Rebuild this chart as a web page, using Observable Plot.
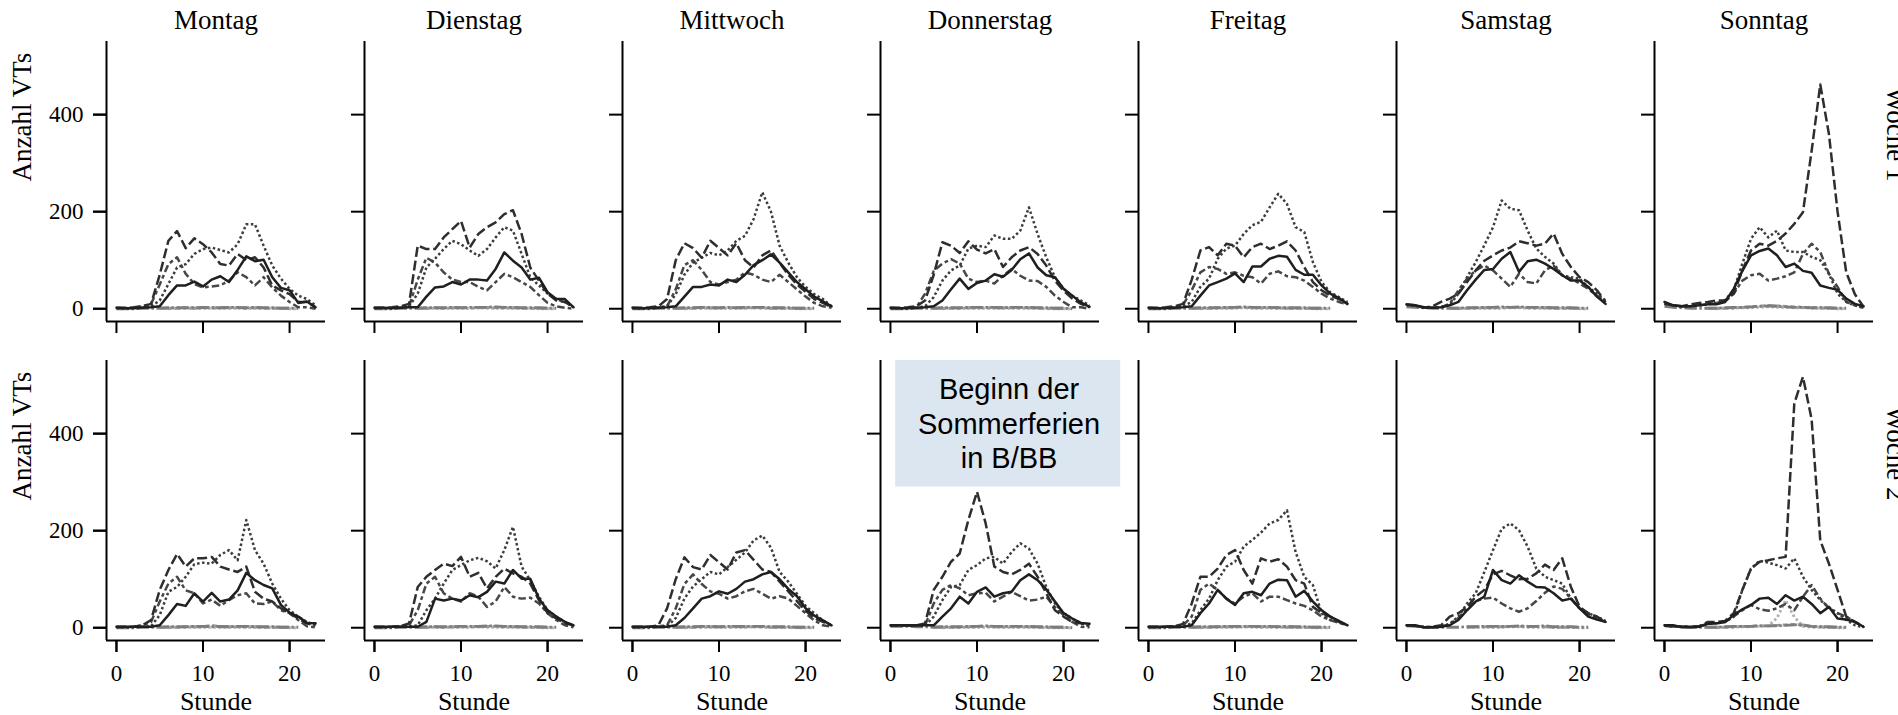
<!DOCTYPE html>
<html><head><meta charset="utf-8">
<script src="https://cdn.jsdelivr.net/npm/d3@7"></script>
<script src="https://cdn.jsdelivr.net/npm/@observablehq/plot@0.6"></script>
<style>html,body{margin:0;padding:0;background:#fff;overflow:hidden}</style>
</head><body><div id="chart"></div>
<script>
const days = ["Montag","Dienstag","Mittwoch","Donnerstag","Freitag","Samstag","Sonntag"];
const weeks = ["Woche 1","Woche 2"];
const hours = [0,1,2,3,4,5,6,7,8,9,10,11,12,13,14,15,16,17,18,19,20,21,22,23];
const xTicks = [0,10,20];
const yTicks = [0,200,400];
const xLabel = "Stunde";
const yLabel = "Anzahl VTs";
const noteText = "Beginn der\nSommerferien\nin B/BB";

// Week 1, one row per day (Montag..Sonntag), 24 hourly values
const w1Solid = [
  [2,1,1,2,3,5,28,48,48,56,46,60,67,55,80,108,98,101,65,43,38,12,15,3],
  [2,2,1,2,3,3,25,44,46,55,50,60,60,58,82,116,99,85,60,64,34,20,20,3],
  [2,1,1,2,3,5,25,45,45,50,48,60,55,70,90,100,112,95,75,55,40,25,15,5],
  [2,1,1,2,3,5,17,40,62,41,53,58,71,66,80,102,114,85,69,65,41,27,13,4],
  [2,1,1,2,3,5,27,48,55,62,73,55,87,87,103,109,107,80,70,70,48,31,22,10],
  [9,7,3,2,3,7,14,38,60,80,82,103,117,76,98,101,93,82,69,58,58,45,25,10],
  [14,7,5,5,7,9,9,14,41,78,110,119,124,110,86,93,78,74,48,43,39,21,10,5]
];
const w1Long = [
  [2,2,3,5,10,70,140,160,125,145,133,116,92,89,113,100,106,85,48,38,30,14,14,3],
  [2,2,3,5,10,130,123,123,147,164,181,126,154,168,178,195,203,154,85,58,31,17,14,3],
  [2,2,3,5,20,100,135,125,105,140,125,110,135,100,85,110,120,95,70,50,35,20,12,3],
  [2,2,3,5,17,70,137,130,115,139,122,114,123,86,106,120,127,113,89,58,37,21,10,3],
  [2,2,3,5,10,60,120,127,110,134,130,106,127,134,123,130,139,120,86,55,38,27,20,10],
  [9,7,2,5,14,21,31,55,79,99,110,120,126,139,135,130,134,155,113,86,65,55,38,14],
  [10,7,5,9,12,14,17,17,31,79,120,134,130,140,155,175,199,325,462,360,200,75,30,4]
];
const w1Dot = [
  [1,1,1,2,5,17,51,85,92,113,123,126,121,116,133,174,174,130,89,62,41,27,20,7],
  [1,1,1,2,5,31,85,103,123,140,133,120,109,123,147,168,161,113,65,48,31,20,14,3],
  [1,1,1,2,5,30,70,95,105,115,110,120,140,150,185,240,200,130,95,65,45,30,20,5],
  [1,1,1,2,5,24,58,79,89,124,130,127,151,144,144,161,209,154,106,65,41,27,17,7],
  [1,1,1,2,5,14,45,62,103,124,130,154,172,179,209,237,216,168,158,96,55,34,24,14],
  [8,6,3,2,3,8,31,65,96,131,168,223,206,203,161,124,107,93,69,65,62,45,31,17],
  [10,7,5,5,7,9,12,18,38,93,144,168,147,161,120,117,117,107,100,72,31,14,7,2]
];
const w1Short = [
  [1,1,2,5,10,50,92,106,72,51,44,46,48,58,75,65,48,65,44,27,14,3,3,0],
  [1,1,2,3,5,60,105,95,75,60,55,55,45,38,55,72,65,55,45,28,12,5,2,0],
  [1,1,2,3,5,40,90,100,80,55,50,55,60,75,70,60,55,70,55,40,25,12,5,2],
  [1,1,2,3,31,78,93,102,93,62,55,58,52,68,82,68,58,57,45,27,14,3,3,0],
  [1,1,2,3,8,38,75,86,82,72,75,68,65,52,72,77,67,65,58,45,31,21,14,9],
  [8,6,3,2,3,10,38,62,79,89,79,62,45,72,55,52,79,89,69,62,52,41,27,14],
  [10,7,5,5,7,9,12,15,31,58,69,72,58,62,67,75,113,134,117,72,45,14,7,2]
];
const w1GrayA = [
  [0,0,0,1,1,1,2,2,2,2,3,2,2,3,3,2,3,2,2,1,1,1,null,null],
  [0,0,0,1,1,1,2,2,2,3,2,3,3,3,4,3,3,2,2,2,1,1,null,null],
  [0,0,0,1,1,1,2,2,3,2,2,3,2,3,3,3,2,2,2,1,1,1,null,null],
  [0,0,0,1,1,1,2,2,2,3,3,3,3,2,3,3,3,2,2,1,1,0,null,null],
  [0,0,0,1,1,1,2,2,2,3,3,4,3,3,3,2,2,2,2,1,1,1,null,null],
  [4,3,2,1,1,1,1,2,2,3,3,4,3,4,3,3,3,2,2,2,1,1,null,null],
  [5,3,2,1,1,1,1,2,3,3,4,5,6,5,4,3,3,2,2,2,1,1,null,null]
];
const w1GrayB = [
  [null,null,null,null,null,1,1,1,2,1,2,2,2,2,2,1,2,1,1,1,1,null,null,null],
  [null,null,null,null,null,1,1,2,1,2,2,1,2,3,2,2,2,1,1,1,1,null,null,null],
  [null,null,null,null,null,1,1,1,2,2,1,2,2,2,2,2,1,1,1,1,1,null,null,null],
  [null,null,null,null,null,1,1,1,1,2,2,2,2,2,2,2,2,1,1,1,1,null,null,null],
  [null,null,null,null,null,1,1,1,2,2,2,3,2,2,2,2,1,1,1,1,1,null,null,null],
  [null,null,null,null,null,1,1,1,2,2,2,2,3,3,2,2,2,1,1,1,1,null,null,null],
  [null,null,null,null,null,1,1,1,2,3,4,5,7,6,5,4,3,2,2,1,1,null,null,null]
];
const w1GrayC = [
  [null,null,null,null,null,null,0,1,1,1,1,1,1,1,1,1,1,1,1,1,0,0,null,null],
  [null,null,null,null,null,null,0,1,1,1,1,1,2,1,1,1,1,1,1,0,0,0,null,null],
  [null,null,null,null,null,null,0,1,1,1,1,1,1,1,2,1,1,1,1,0,0,0,null,null],
  [null,null,null,null,null,null,0,1,1,1,1,1,1,1,1,1,1,1,0,0,0,0,null,null],
  [null,null,null,null,null,null,0,1,1,1,1,2,1,1,1,1,1,1,1,0,0,0,null,null],
  [null,null,null,null,null,null,0,1,1,1,1,1,2,2,1,1,1,1,1,1,0,0,null,null],
  [null,null,null,null,null,null,0,1,1,2,2,3,4,3,3,2,2,1,1,1,0,0,null,null]
];

// Week 2
const w2Solid = [
  [2,2,2,2,2,5,26,49,45,71,54,72,54,58,77,113,98,88,81,47,31,23,10,9],
  [2,2,2,2,2,2,12,60,56,60,56,67,63,74,95,91,119,101,101,60,36,23,12,5],
  [2,2,2,2,2,5,20,40,60,65,75,70,80,95,100,110,115,100,80,65,40,25,15,5],
  [5,5,5,5,5,5,23,40,64,50,74,83,64,71,74,98,110,98,79,54,30,19,10,8],
  [2,2,2,2,2,5,30,50,78,60,47,71,74,67,91,99,98,64,76,54,36,23,14,5],
  [5,5,1,1,2,5,16,36,54,64,119,98,91,108,95,84,83,71,56,60,40,23,17,12],
  [5,5,1,1,2,8,9,12,26,38,47,60,62,49,67,56,64,49,30,43,19,17,12,2]
];
const w2Long = [
  [2,2,2,5,16,78,119,152,126,143,143,146,126,120,115,126,74,60,54,40,30,19,9,5],
  [2,2,2,3,9,84,105,119,132,127,146,105,113,81,105,122,112,105,91,57,30,19,9,5],
  [2,2,2,5,40,100,145,125,120,150,135,120,155,160,140,120,115,95,75,55,35,20,12,5],
  [5,5,5,5,9,78,105,136,153,222,280,215,126,115,110,119,132,105,71,36,23,12,9,5],
  [2,2,2,3,8,50,105,105,122,150,160,119,91,143,136,141,126,98,91,43,30,23,12,5],
  [5,4,1,2,5,23,30,43,64,78,110,117,108,100,101,112,130,119,143,84,43,30,23,12],
  [4,3,2,2,3,12,12,14,30,78,122,136,139,143,146,462,517,430,180,132,78,23,12,2]
];
const w2Dot = [
  [1,1,1,2,3,26,74,84,105,131,134,132,150,160,139,222,160,132,91,60,36,23,12,5],
  [1,1,1,2,3,5,36,60,91,119,129,139,144,137,122,160,208,126,98,64,36,23,12,5],
  [1,1,1,2,3,20,60,85,100,115,110,125,140,155,180,190,165,115,95,70,45,30,15,5],
  [4,4,4,4,4,23,57,84,88,119,129,143,146,132,156,174,163,132,84,50,30,19,9,3],
  [1,1,1,2,3,9,36,60,98,126,136,167,181,196,215,222,242,156,105,88,30,16,12,5],
  [5,4,1,1,2,8,23,50,71,115,160,204,215,201,167,122,105,98,91,60,40,30,23,14],
  [4,3,2,2,3,8,9,12,23,78,122,138,134,129,122,143,105,78,57,42,30,16,5,1]
];
const w2Short = [
  [1,1,2,5,12,54,91,105,77,71,50,58,45,57,67,71,50,49,54,36,30,16,3,1],
  [1,1,2,3,5,36,91,105,71,60,54,71,64,43,54,84,64,60,62,50,30,16,5,1],
  [1,1,2,3,5,40,90,110,90,75,70,60,65,75,80,70,60,65,60,45,30,15,5,2],
  [4,4,4,4,5,50,78,88,81,67,71,72,54,64,74,65,56,58,64,43,26,12,2,1],
  [1,1,2,3,5,23,78,91,78,60,50,64,71,54,64,64,57,50,45,36,23,16,10,5],
  [5,4,1,1,2,8,20,40,55,60,62,50,40,33,40,55,72,85,80,60,40,28,20,12],
  [4,3,2,2,3,8,9,12,23,36,47,38,35,40,49,36,64,88,60,40,30,23,12,2]
];
const w2GrayA = [
  [0,0,0,1,1,1,2,2,2,3,3,2,3,2,3,3,2,2,2,1,1,1,null,null],
  [0,0,0,1,1,1,2,2,2,2,3,3,3,4,4,3,3,2,2,2,1,1,null,null],
  [0,0,0,1,1,1,2,2,3,3,2,3,3,3,3,3,2,2,2,1,1,1,null,null],
  [3,3,3,2,2,1,2,2,2,3,3,4,3,3,3,3,3,2,2,1,1,0,null,null],
  [0,0,0,1,1,1,2,2,2,3,3,3,3,3,3,2,3,2,2,1,1,1,null,null],
  [4,3,2,1,1,1,1,2,2,3,3,3,3,4,3,3,4,2,2,2,1,1,null,null],
  [5,3,2,1,1,1,1,2,3,3,3,4,4,4,5,6,5,3,2,2,1,1,null,null]
];
const w2GrayB = [
  [null,null,null,null,null,1,1,1,2,2,2,5,2,2,2,2,2,1,1,1,1,null,null,null],
  [null,null,null,null,null,1,1,2,1,2,2,2,2,3,3,2,2,1,1,1,1,null,null,null],
  [null,null,null,null,null,1,1,1,2,2,1,2,2,2,2,2,1,1,1,1,1,null,null,null],
  [null,null,null,null,null,1,1,1,1,2,2,3,2,2,2,2,2,1,1,1,1,null,null,null],
  [null,null,null,null,null,1,1,1,2,2,2,2,3,2,2,2,1,1,1,1,1,null,null,null],
  [null,null,null,null,null,null,null,1,2,2,2,2,3,3,2,3,2,1,1,1,1,null,null,null],
  [null,null,null,null,null,1,1,1,2,3,3,4,4,5,6,7,6,3,2,1,1,null,null,null]
];
const w2GrayC = [
  [null,null,null,null,null,null,0,1,1,1,1,1,1,1,1,1,1,1,1,1,0,0,null,null],
  [null,null,null,null,null,null,0,1,1,1,1,1,2,1,1,1,1,1,1,0,0,0,null,null],
  [null,null,null,null,null,null,0,1,1,1,1,1,1,1,2,1,1,1,1,0,0,0,null,null],
  [null,null,null,null,null,null,0,1,1,1,1,1,1,1,1,1,1,1,0,0,0,0,null,null],
  [null,null,null,null,null,null,0,1,1,1,1,2,1,1,1,1,1,1,1,0,0,0,null,null],
  [null,null,null,null,null,null,null,1,1,1,1,1,2,2,1,1,1,1,1,1,0,0,null,null],
  [null,null,null,null,null,null,0,1,1,2,2,3,4,20,57,22,3,1,1,1,0,0,null,null]
];

function rows(w1, w2) {
  const out = [];
  [w1, w2].forEach((W, wi) => W.forEach((vals, di) => vals.forEach((v, h) => {
    out.push({week: weeks[wi], day: days[di], hour: hours[h], value: v});
  })));
  return out;
}

const lw = 2.5;
const series = [
  {data: rows(w1GrayC, w2GrayC), stroke: "#b0b0b0", dash: "2.5,2.5", width: 2.8},
  {data: rows(w1GrayB, w2GrayB), stroke: "#999999", dash: "12.5,2.5,5,2.5,5,2.5", width: 2.8},
  {data: rows(w1GrayA, w2GrayA), stroke: "#7d7d7d", dash: "12.5,2.5,2.5,2.5", width: 2.8},
  {data: rows(w1Short, w2Short), stroke: "#474747", dash: "7.5,3.1,3.75,3.1", width: lw},
  {data: rows(w1Dot, w2Dot), stroke: "#3d3d3d", dash: "2.5,2.5", width: lw},
  {data: rows(w1Long, w2Long), stroke: "#2e2e2e", dash: "10,3.75", width: lw},
  {data: rows(w1Solid, w2Solid), stroke: "#1f1f1f", dash: null, width: lw}
];

const xDomain = [-1.15, 24.15];
const yDomain = [-26.3, 550.7];
const serif = "'Liberation Serif', 'Times New Roman', serif";

const marks = [
  Plot.rect([noteText], {fx: () => days[3], fy: () => weeks[1],
    x1: () => 0.6, x2: () => 26.6, y1: () => 290, y2: () => 550.7, fill: "#dce6f0"}),
  ...series.map(s => Plot.line(s.data, {
    x: "hour", y: "value", fx: "day", fy: "week",
    stroke: s.stroke, strokeWidth: s.width,
    strokeDasharray: s.dash || undefined,
    strokeLinecap: s.dash ? "butt" : "round", strokeLinejoin: "round"
  })),
  Plot.ruleX([xDomain[0]], {stroke: "black", strokeWidth: 2}),
  Plot.ruleY([yDomain[0]], {stroke: "black", strokeWidth: 2}),
  Plot.axisY(yTicks, {tickSize: 13, tickPadding: 10, label: null, fontSize: 23, strokeWidth: 2}),
  Plot.axisY(yTicks, {tickSize: 13, tickFormat: () => "", label: null, facetAnchor: null, strokeWidth: 2}),
  Plot.axisX(xTicks, {tickSize: 12, tickPadding: 12, label: null, fontSize: 23, strokeWidth: 2}),
  Plot.axisX(xTicks, {tickSize: 12, tickFormat: () => "", label: null, facetAnchor: null, strokeWidth: 2}),
  Plot.text(days, {fx: d => d, fy: () => weeks[0], text: d => d, frameAnchor: "top",
    dy: -13, lineAnchor: "bottom", fontSize: 27}),
  Plot.text(days, {fx: d => d, fy: () => weeks[1], text: () => xLabel, frameAnchor: "bottom",
    dy: 69, lineAnchor: "bottom", fontSize: 26}),
  Plot.text(weeks, {fx: () => days[0], fy: d => d, text: () => yLabel, frameAnchor: "left",
    dx: -76, rotate: -90, lineAnchor: "bottom", fontSize: 27}),
  Plot.text(weeks, {fx: () => days[6], fy: d => d, text: d => d, frameAnchor: "right",
    dx: 13, rotate: 90, lineAnchor: "bottom", fontSize: 27}),
  Plot.text([noteText], {fx: () => days[3], fy: () => weeks[1], x: () => 13.7, y: () => 328.4,
    text: d => d, lineAnchor: "bottom", lineHeight: 1.2, fontFamily: "'Liberation Sans', Arial, sans-serif",
    fontSize: 29, fill: "black"})
];

const chart = Plot.plot({
  width: 1898, height: 715,
  marginLeft: 105, marginRight: 24.2, marginTop: 41, marginBottom: 75,
  style: {fontFamily: serif, fontSize: "23px", background: "white", color: "black"},
  x: {domain: xDomain},
  y: {domain: yDomain},
  fx: {domain: days, paddingInner: 0.152, paddingOuter: 0, axis: null},
  fy: {domain: weeks, paddingInner: 0.1223, paddingOuter: 0, axis: null},
  marks
});
document.getElementById("chart").appendChild(chart);
</script>
</body></html>
